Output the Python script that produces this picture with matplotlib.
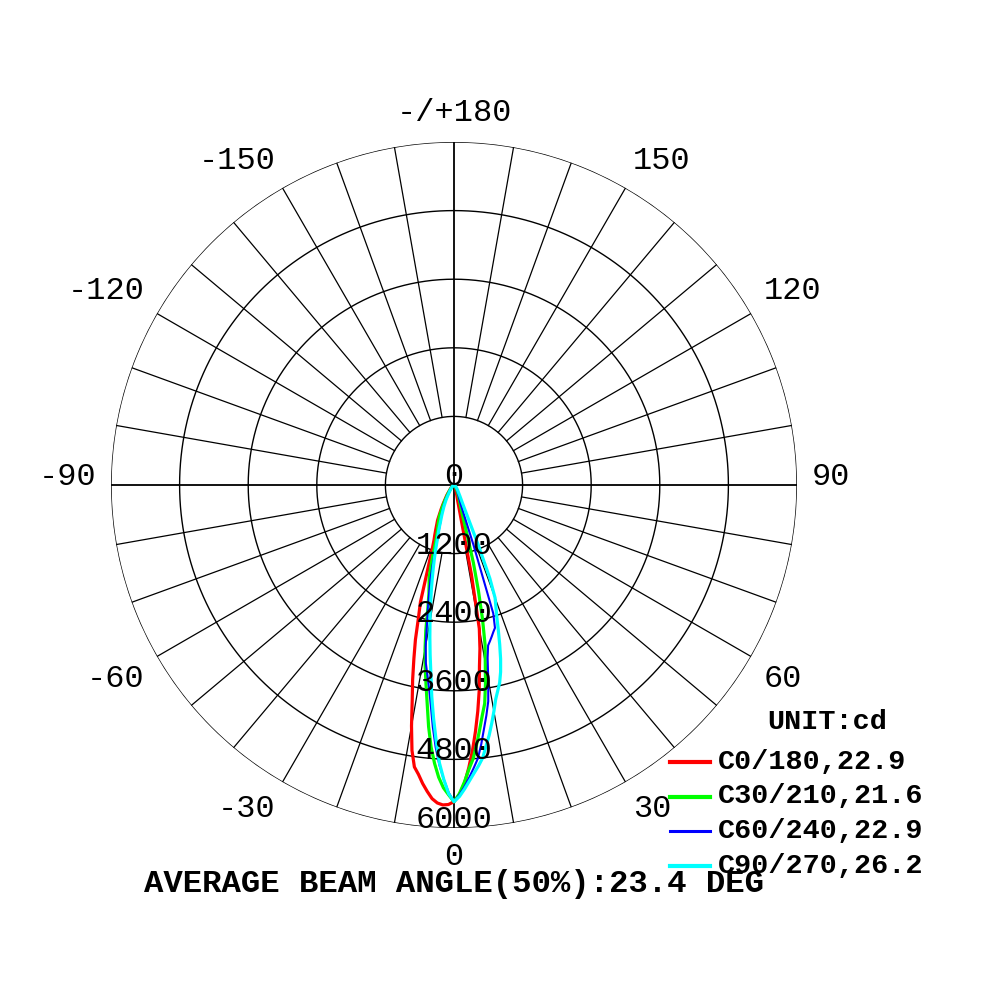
import numpy as np
import matplotlib.pyplot as plt
from matplotlib.lines import Line2D

# gamma angles (deg) and luminous intensity (cd)
gamma = [0, 1, 2, 3, 4, 5, 6, 7, 8, 9, 10, 11, 12, 13, 14, 15, 16, 17, 18, 19, 20,
         21, 22, 23, 24, 25, 28, 30, 35, 40, 45, 50, 60, 70, 80, 90]

c0 = [5540, 5420, 5230, 4950, 4650, 4320, 3980, 3620, 3200, 2900, 2550, 1600, 500, 300, 230, 190,
      160, 140, 120, 110, 100, 95, 85, 80, 75, 70, 60, 50, 40, 30, 25, 20, 15, 10, 5, 0]
c180 = [5540, 5590, 5600, 5570, 5500, 5380, 5250, 5100, 4980, 4700, 4280, 3830, 3480, 3120, 2790, 2400,
        2130, 1650, 1350, 1150, 1020, 940, 860, 790, 730, 680, 480, 380, 220, 120, 80, 50, 25, 15, 8, 0]
c30 = [5540, 5400, 5200, 4980, 4800, 4550, 4300, 4060, 3860, 3520, 3150, 2850, 2400, 1900, 1400, 800,
       500, 420, 350, 300, 260, 230, 200, 185, 165, 150, 110, 90, 60, 40, 30, 22, 15, 10, 5, 0]
c210 = [5540, 5420, 5300, 5120, 4880, 4600, 4250, 3850, 3520, 3220, 2920, 2580, 2200, 1950, 1800, 1680,
        1450, 1200, 1030, 920, 840, 790, 740, 690, 640, 600, 420, 330, 180, 100, 60, 40, 20, 10, 5, 0]
c60 = [5540, 5420, 5280, 5120, 4960, 4800, 4560, 4300, 4070, 3830, 3450, 3080, 2870, 2800, 2730, 2660,
       2600, 2350, 1100, 400, 300, 260, 220, 200, 180, 160, 120, 100, 70, 50, 35, 25, 15, 10, 5, 0]
c240 = [5540, 5380, 5150, 4900, 4600, 4250, 3880, 3580, 3350, 3150, 2850, 2480, 2180, 1930, 1700, 1450,
        1200, 1000, 880, 780, 700, 650, 600, 550, 510, 470, 350, 280, 160, 90, 55, 35, 18, 10, 5, 0]
c90 = [5540, 5450, 5320, 5180, 5050, 4930, 4800, 4600, 4420, 4220, 4020, 3820, 3680, 3550, 3370, 3150,
       2900, 2650, 2420, 2250, 2100, 1750, 1150, 650, 450, 350, 220, 170, 110, 70, 45, 30, 18, 10, 5, 0]
c270 = [5540, 5400, 5150, 4870, 4480, 4100, 3720, 3320, 3000, 2700, 2420, 2160, 1920, 1700, 1500, 1320,
        1150, 1000, 900, 800, 700, 630, 570, 510, 460, 420, 300, 230, 130, 75, 45, 30, 15, 8, 4, 0]

planes = ["C0/180,22.9", "C30/210,21.6", "C60/240,22.9", "C90/270,26.2"]
colors = ["#ff0000", "#00ff00", "#0000ff", "#00ffff"]
widths = [2.3, 2.3, 1.5, 2.3]
rings = [0, 1200, 2400, 3600, 4800, 6000]
angle_ticks = [0, 30, 60, 90, 120, 150, 180, -150, -120, -90, -60, -30]
angle_labels = ["0", "30", "60", "90", "120", "150", "-/+180", "-150", "-120", "-90", "-60", "-30"]

mono = "Liberation Mono"

fig = plt.figure(figsize=(10, 10), dpi=100)
ax = fig.add_axes([0.111, 0.172, 0.686, 0.686], projection="polar")
ax.set_theta_zero_location("S")
ax.set_theta_direction(1)
ax.set_ylim(0, 6000)
ax.set_xticks([])
ax.set_yticks([])
ax.grid(False)
ax.spines["polar"].set_visible(False)

# grid circles
t = np.linspace(0, 2 * np.pi, 721)
for v in rings[1:]:
    ax.plot(t, np.full_like(t, v), color="black", lw=1.0, zorder=1)

# spokes every 10 deg, main axes through the centre
for a in range(0, 360, 10):
    if a % 90 == 0:
        ax.plot([np.radians(a)] * 2, [0, 6000], color="black", lw=1.3, zorder=1)
    else:
        ax.plot([np.radians(a)] * 2, [1200, 6000], color="black", lw=0.9, zorder=1)

# curves: left half is the opposite C plane
g = np.radians(np.array(gamma, dtype=float))
pairs = [(c0, c180), (c30, c210), (c60, c240), (c90, c270)]
for (right, left), col, lw in zip(pairs, colors, widths):
    th = np.concatenate([-g[::-1], g[1:]])
    r = np.concatenate([np.array(left)[::-1], np.array(right)[1:]])
    ax.plot(th, r, color=col, lw=lw, zorder=3)

# ring values
for v in rings:
    ax.text(0, v, str(v), ha="center", va="baseline", fontsize=23,
            family=mono, zorder=4)

# angle labels, anchored just outside the outer ring
for a, lab in zip(angle_ticks, angle_labels):
    s, c = np.sin(np.radians(a)), np.cos(np.radians(a))
    ha = "left" if s > 0.1 else ("right" if s < -0.1 else "center")
    if c > 0.1:
        va = "top"
    elif c < -0.1:
        va = "bottom"
    else:
        va = "baseline"
    ax.text(np.radians(a), 6250, lab, ha=ha, va=va,
            fontsize=23, family=mono, clip_on=False)

# legend
fig.text(0.827, 0.278, "UNIT:cd", ha="center", va="center", fontsize=20.5,
         family=mono, weight="bold")
for i, (lab, col, lw) in enumerate(zip(planes, colors, widths)):
    y = 0.238 - i * 0.0345
    fig.add_artist(Line2D([0.670, 0.710], [y, y], color=col, lw=lw + 0.7,
                          transform=fig.transFigure))
    fig.text(0.718, y, lab, ha="left", va="center", fontsize=20.5,
             family=mono, weight="bold")

fig.text(0.4535, 0.116, "AVERAGE BEAM ANGLE(50%):23.4 DEG", ha="center",
         va="center", fontsize=23.3, family=mono, weight="bold")

fig.savefig("out.png", dpi=100, facecolor="white")
